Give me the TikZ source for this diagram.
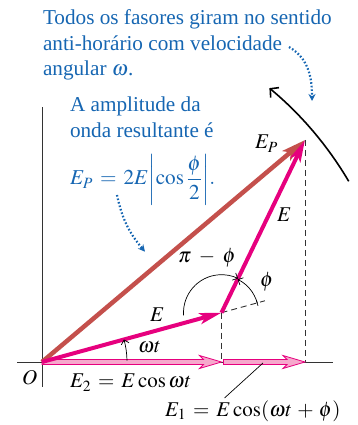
\documentclass[tikz,border=0pt]{standalone}
\usepackage{amsmath}
\usepackage{mathptmx}
\usepackage{fontspec}
\setmainfont{Liberation Serif}
\usetikzlibrary{arrows.meta,calc}
\definecolor{vecpink}{RGB}{230,0,126}
\definecolor{lightpink}{RGB}{246,168,204}
\definecolor{resred}{RGB}{196,80,76}
\definecolor{noteblue}{RGB}{22,102,178}
\newcommand\hollowarrow[2]{%
  \path[hollow] ($(#1)+(0,2.5)$) -- ($(#2)+(-18,2.5)$) -- ($(#2)+(-22,6.5)$) -- (#2)
    -- ($(#2)+(-22,-6.5)$) -- ($(#2)+(-18,-2.5)$) -- ($(#1)+(0,-2.5)$) -- cycle;}
\begin{document}
\begin{tikzpicture}[x=1pt,y=1pt,
  every node/.style={inner sep=0pt, outer sep=0pt},
  lbl/.style={font=\fontsize{21}{25}\selectfont, anchor=base west},
  note/.style={font=\fontsize{21.2}{25.5}\selectfont, text=noteblue, align=left, anchor=base west},
  vec/.style={draw=vecpink, line width=4pt, -{Stealth[length=22pt,width=11pt,inset=5pt]}},
  res/.style={draw=resred, line width=4.5pt, -{Stealth[length=24pt,width=12pt,inset=5pt]}},
  axis/.style={draw=black!80, line width=0.9pt},
  proj/.style={draw=black!80, line width=0.9pt, dash pattern=on 6pt off 4pt},
  angarc/.style={draw=black, line width=0.7pt, -{Straight Barb[length=4pt,width=8pt]}},
  dotarrow/.style={draw=noteblue, line width=2.2pt, dash pattern=on 1.6pt off 2pt, -{Stealth[length=7pt,width=7pt]}},
  hollow/.style={draw=vecpink, fill=lightpink, line width=0.8pt, line join=miter},
  rotarrow/.style={draw=black, line width=1.6pt, -{Straight Barb[length=6pt,width=13pt]}}
]
\useasboundingbox (0,0) rectangle (357,425);
\coordinate (O) at (42,63);
\coordinate (A) at (221.5,112.3);
\coordinate (P) at (305,285);
\coordinate (Ax) at (221.5,63);
\coordinate (Ax2) at (223.5,63);
\coordinate (Px) at (305,63);
\coordinate (Xl) at (17,63);
\coordinate (Xr) at (333,63);
\coordinate (Yb) at (42,38);
\coordinate (Yt) at (42,318);
% axes and projections
\draw[axis] (Xl) -- (Xr);
\draw[axis] (Yb) -- (Yt);
\draw[proj] (A) -- (Ax);
\draw[proj] (P) -- (Px);
\draw[proj] (A) -- ++(15.36:45) coordinate (Aext);
% projections on the axis
\hollowarrow{O}{Ax}
\hollowarrow{Ax2}{Px}
% phasors
\draw[res] (O) -- (P);
\draw[vec] (O) -- (A);
\draw[vec] (A) -- (P);
% rotation arrow
\draw[rotarrow] (O) ++(30.5:356) arc[start angle=30.5, end angle=50.3, radius=356];
% angle arcs
\draw[angarc] (O) ++(1:85) arc[start angle=1, end angle=15.36, radius=85];
\draw[angarc] (A) ++(184:38) arc[start angle=184, end angle=64.2, radius=38];
\draw[angarc] (A) ++(15.36:37) arc[start angle=15.36, end angle=64.2, radius=37];
\draw[line width=0.7pt] ($(A)+(15.36:37)+(105.36:-3)$) -- ++(105.36:6);
% leader for E1
\coordinate (L1) at (263,62);
\coordinate (L2) at (224.5,27);
\draw[line width=0.7pt] (L1) -- (L2);
% blue notes
\node[note] (t1) at (43,349) {Todos os fasores giram no sentido\\anti-horário com velocidade\\angular $\omega$.};
\node[note] (t2) at (70,287.5) {A amplitude da\\onda resultante é};
\node[note] (t3) at (70,240) {$E_P \,=\, 2E{\left|\cos\dfrac{\phi}{2}\right|}.$};
\coordinate (D1s) at (289,378);
\coordinate (D1e) at (312,324);
\draw[dotarrow] (D1s) to[out=-30, in=90] (D1e);
\coordinate (D2s) at (117,230);
\coordinate (D2e) at (145,173.3);
\draw[dotarrow] (D2s) to[out=-78, in=130] (D2e);
% labels
\node[lbl] (lEP) at (255,276) {$E_P$};
\node[lbl] (lE2) at (277,203) {$E$};
\node[lbl] (lpm) at (178,162) {$\pi \;-\; \phi$};
\node[lbl] (lph) at (260,138) {$\phi$};
\node[lbl] (lE1) at (150,103) {$E$};
\node[lbl] (lwt) at (138,72) {$\omega t$};
\node[lbl] (lO) at (22,40) {$O$};
\node[lbl] (lEc2) at (70,37) {$E_2 \,=\, E\cos\omega t$};
\node[lbl] (lEc1) at (165,8.5) {$E_1 \,=\, E\cos(\omega t \,+\, \phi)$};
\end{tikzpicture}
\end{document}
